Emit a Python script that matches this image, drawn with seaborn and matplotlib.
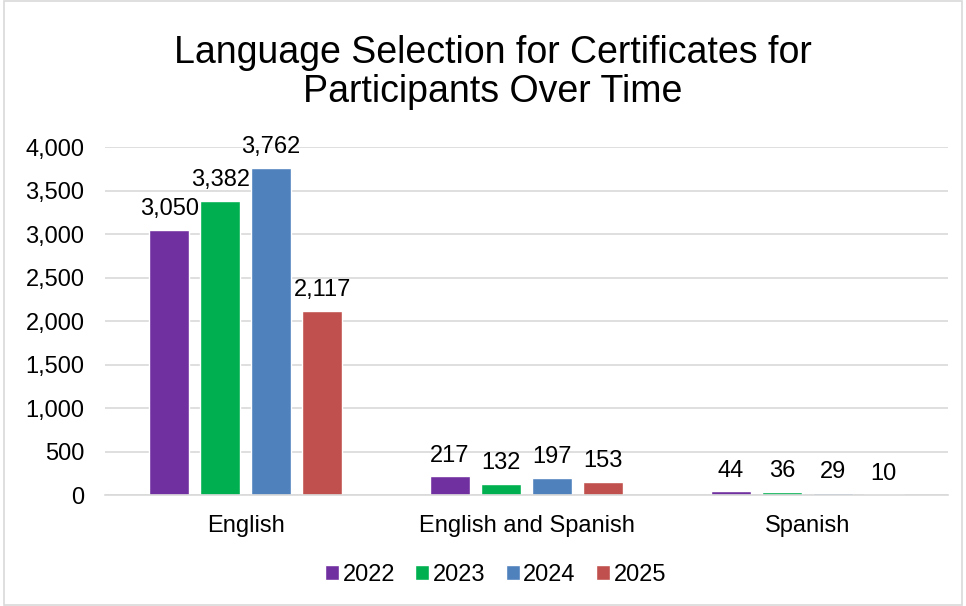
import matplotlib.pyplot as plt
import pandas as pd
import seaborn as sns
from matplotlib.patches import Rectangle

categories = ["English", "English and Spanish", "Spanish"]
years = ["2022", "2023", "2024", "2025"]
counts = {
    "2022": [3050, 217, 44],
    "2023": [3382, 132, 36],
    "2024": [3762, 197, 29],
    "2025": [2117, 153, 10],
}
colors = ["#7030A0", "#00B050", "#4F81BD", "#C0504D"]


def build_frame() -> pd.DataFrame:
    rows = []
    for year in years:
        for cat, val in zip(categories, counts[year]):
            rows.append({"language": cat, "year": year, "count": val})
    return pd.DataFrame(rows)


def main() -> None:
    sns.set_theme(style="white")
    plt.rcParams["font.family"] = ["Liberation Sans", "DejaVu Sans"]
    plt.rcParams["text.color"] = "black"

    df = build_frame()

    fig = plt.figure(figsize=(9.66, 6.06), dpi=100)
    ax = fig.add_axes([0.109, 0.183, 0.872, 0.574])

    sns.barplot(data=df, x="language", y="count", hue="year", hue_order=years,
                order=categories, palette=colors, width=0.726, gap=0.216,
                saturation=1, ax=ax, legend=True)

    for container in ax.containers:
        ax.bar_label(container, fmt="{:,.0f}", padding=7, fontsize=17, color="black")

    ax.set_ylim(0, 4000)
    ax.set_yticks(range(0, 4001, 500))
    ax.set_yticklabels([f"{v:,}" for v in range(0, 4001, 500)], fontsize=17)
    ax.tick_params(axis="x", labelsize=17, length=0, pad=14, labelcolor="black")
    ax.tick_params(axis="y", length=0, pad=15, labelcolor="black")
    ax.yaxis.grid(True, color="#d9d9d9", linewidth=1.2)
    ax.set_axisbelow(True)
    for side in ["top", "right", "left"]:
        ax.spines[side].set_visible(False)
    ax.spines["bottom"].set_color("#d9d9d9")
    ax.spines["bottom"].set_linewidth(1.2)
    ax.set_xlabel("")
    ax.set_ylabel("")

    handles, labels = ax.get_legend_handles_labels()
    ax.legend(handles, labels, loc="center", bbox_to_anchor=(0.513, 0.051),
              bbox_transform=fig.transFigure, ncol=4, frameon=False,
              fontsize=17, handlelength=0.6, handleheight=0.6,
              handletextpad=0.15, columnspacing=0.85)

    fig.text(0.51, 0.881, "Language Selection for Certificates for\nParticipants Over Time",
             ha="center", va="center", fontsize=27, linespacing=1.1, color="black")

    fig.patches.append(Rectangle((0.004, 0.002), 0.992, 0.996, transform=fig.transFigure,
                                 fill=False, edgecolor="#d9d9d9", linewidth=1.2))

    fig.savefig("out.png", dpi=100)
    plt.close(fig)


if __name__ == "__main__":
    main()
